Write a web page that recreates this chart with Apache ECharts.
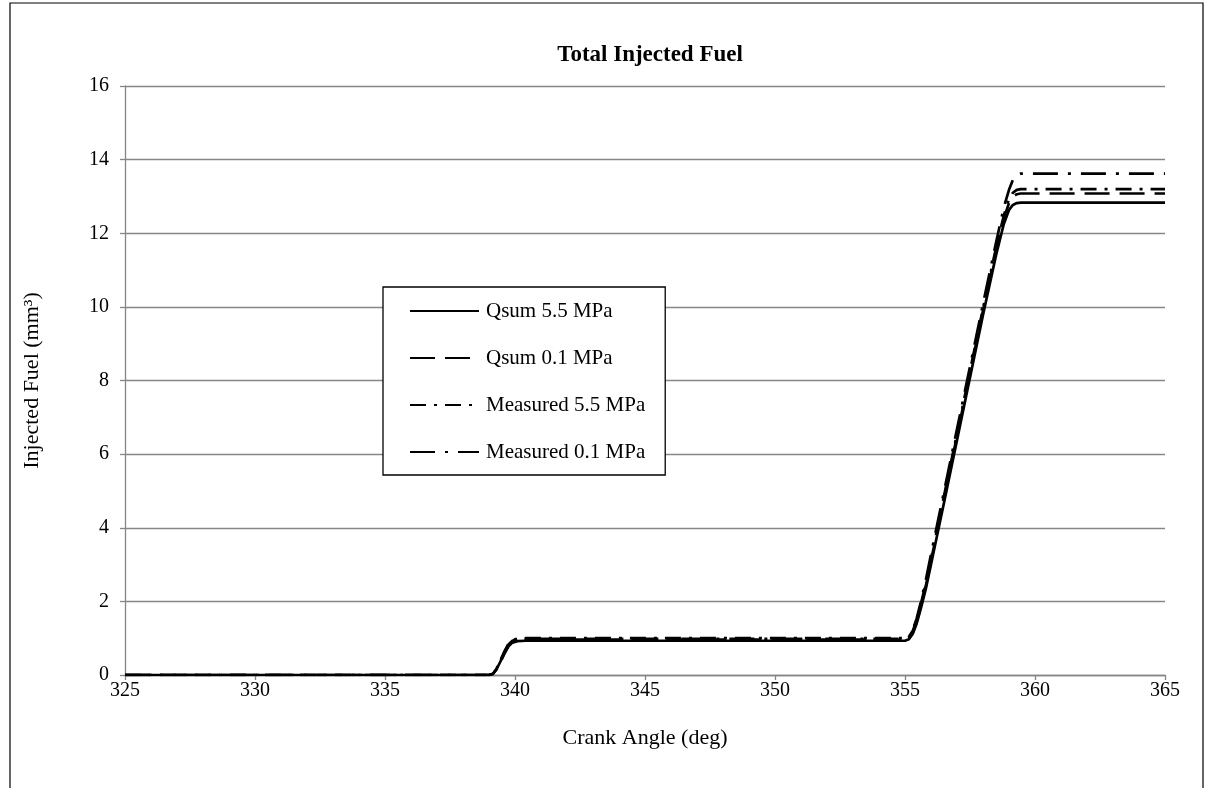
<!DOCTYPE html>
<html>
<head>
<meta charset="utf-8">
<title>Total Injected Fuel</title>
<script src="https://cdn.jsdelivr.net/npm/echarts@6/dist/echarts.min.js"></script>
<style>
  html, body { margin: 0; padding: 0; background: #fff; }
  #chart { width: 1205px; height: 788px; }
</style>
</head>
<body>
<div id="chart"></div>
<script>
// Crank angle samples (deg)
const crankAngle = [325, 339, 339.15, 339.3, 339.45, 339.6, 339.75, 339.9, 340.1, 340.4, 355, 355.15, 355.3, 355.45, 355.6, 355.8, 356, 356.5, 357, 357.5, 358, 358.5, 358.8, 359, 359.15, 359.3, 359.45, 359.6, 365];

// Injected fuel (mm³) for each trace
const qsum55 = [0, 0, 0.03, 0.17, 0.38, 0.60, 0.78, 0.88, 0.92, 0.93, 0.93, 0.97, 1.12, 1.40, 1.78, 2.34, 3.00, 4.68, 6.38, 8.08, 9.78, 11.40, 12.25, 12.63, 12.77, 12.82, 12.83, 12.83, 12.83];
const qsum01 = [0, 0, 0.03, 0.16, 0.36, 0.59, 0.79, 0.90, 0.95, 0.96, 0.96, 1.00, 1.16, 1.45, 1.84, 2.42, 3.10, 4.80, 6.50, 8.20, 9.90, 11.52, 12.40, 12.82, 12.99, 13.06, 13.08, 13.08, 13.08];
const meas55 = [0, 0, 0.04, 0.19, 0.41, 0.65, 0.85, 0.95, 0.99, 1.00, 1.00, 1.04, 1.20, 1.50, 1.90, 2.48, 3.16, 4.86, 6.56, 8.26, 9.96, 11.60, 12.48, 12.93, 13.10, 13.18, 13.20, 13.20, 13.20];
const meas01 = [0, 0, 0.03, 0.18, 0.40, 0.63, 0.83, 0.93, 0.97, 0.98, 0.98, 1.03, 1.22, 1.54, 1.96, 2.58, 3.28, 4.98, 6.68, 8.38, 10.08, 11.74, 12.70, 13.18, 13.45, 13.58, 13.62, 13.62, 13.62];

const seriesNames = ['Qsum 5.5 MPa', 'Qsum 0.1 MPa', 'Measured 5.5 MPa', 'Measured 0.1 MPa'];
const seriesValues = [qsum55, qsum01, meas55, meas01];
const dashPatterns = ['solid', [25, 10], [16, 8, 3, 8], [25, 10, 3, 10]];

const xTicks = { min: 325, max: 365, interval: 5 };
const yTicks = { min: 0, max: 16, interval: 2 };

const FONT = '"Liberation Serif", "Times New Roman", serif';

const chart = echarts.init(document.getElementById('chart'), null, { renderer: 'canvas' });

const series = seriesNames.map((name, i) => ({
  name: name,
  type: 'line',
  symbol: 'none',
  smooth: false,
  data: crankAngle.map((a, k) => [a, seriesValues[i][k]]),
  lineStyle: { color: '#000', width: 2.7, type: dashPatterns[i], join: 'round', cap: 'butt' },
  itemStyle: { color: '#000' },
  z: 3 + i
}));

chart.setOption({
  animation: false,
  backgroundColor: '#fff',
  textStyle: { fontFamily: FONT, color: '#000' },
  title: {
    text: 'Total Injected Fuel',
    left: 645,
    textAlign: 'center',
    top: 39,
    textStyle: { fontFamily: FONT, fontWeight: 'bold', fontSize: 23, color: '#000' }
  },
  graphic: [{
    type: 'rect',
    shape: { x: 10, y: 3, width: 1193, height: 800 },
    style: { fill: 'none', stroke: '#000', lineWidth: 1.2 },
    silent: true
  }],
  legend: {
    orient: 'vertical',
    left: 383,
    top: 287,
    padding: [13, 20, 12, 26],
    itemWidth: 69,
    itemHeight: 16,
    itemGap: 25,
    borderColor: '#000',
    borderWidth: 1.3,
    backgroundColor: '#fff',
    itemStyle: { opacity: 0 },
    textStyle: { fontFamily: FONT, fontSize: 21, lineHeight: 22, color: '#000', padding: [0, 0, 0, 2] },
    data: seriesNames
  },
  grid: { left: 125, right: 40, top: 86, bottom: 113, containLabel: false },
  xAxis: {
    type: 'value',
    min: xTicks.min, max: xTicks.max, interval: xTicks.interval,
    name: 'Crank Angle (deg)',
    nameLocation: 'middle',
    nameGap: 52,
    nameTextStyle: { fontFamily: FONT, fontSize: 22, color: '#000' },
    axisLine: { show: true, lineStyle: { color: '#868686', width: 1.3 } },
    axisTick: { show: true, inside: false, length: 5, lineStyle: { color: '#868686', width: 1.3 } },
    axisLabel: { fontFamily: FONT, fontSize: 20, color: '#000', margin: 6 },
    splitLine: { show: false }
  },
  yAxis: {
    type: 'value',
    min: yTicks.min, max: yTicks.max, interval: yTicks.interval,
    name: 'Injected Fuel (mm³)',
    nameLocation: 'middle',
    nameGap: 82,
    nameRotate: 90,
    nameTextStyle: { fontFamily: FONT, fontSize: 22, color: '#000' },
    axisLine: { show: true, lineStyle: { color: '#868686', width: 1.3 } },
    axisTick: { show: true, inside: false, length: 5, lineStyle: { color: '#868686', width: 1.3 } },
    axisLabel: { fontFamily: FONT, fontSize: 20, color: '#000', margin: 16 },
    splitLine: { show: true, lineStyle: { color: '#868686', width: 1.3 } }
  },
  series: series
});
</script>
</body>
</html>
